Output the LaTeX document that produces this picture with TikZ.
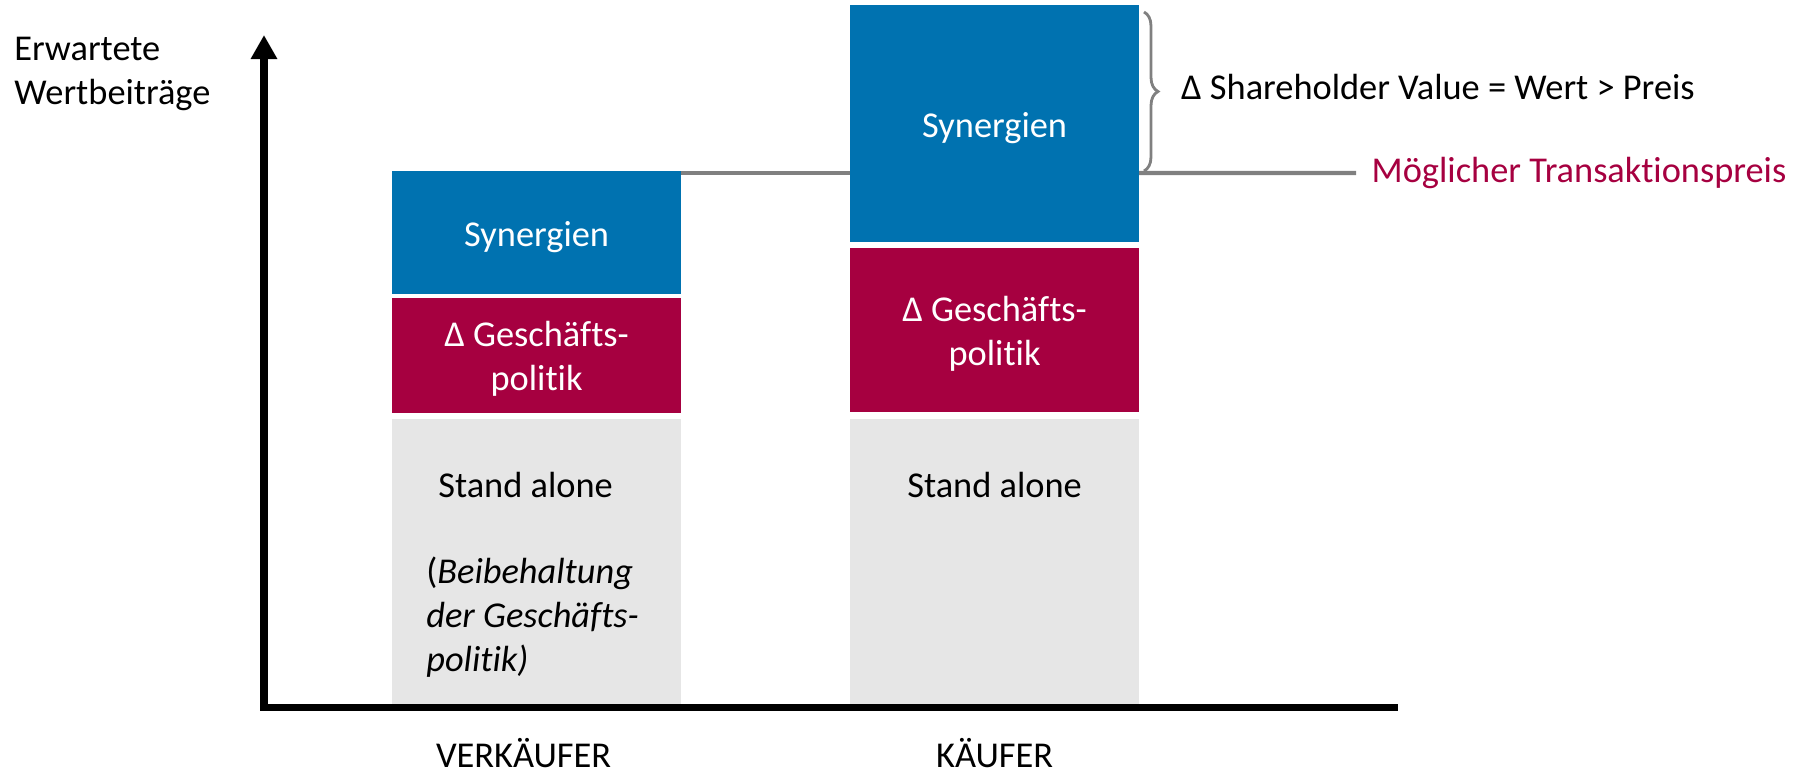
\documentclass[tikz,border=0pt]{standalone}
\usepackage{fontspec}
\setmainfont{Carlito}[Ligatures={NoCommon}]
\usepackage{xcolor}
\usepackage{tikz}
\usetikzlibrary{positioning,arrows.meta,calc,decorations.pathreplacing}
\definecolor{synblue}{RGB}{0,114,176}
\definecolor{polred}{RGB}{166,0,64}
\definecolor{alonegray}{RGB}{230,230,230}
\definecolor{pricegray}{RGB}{128,128,128}

\begin{document}
\begin{tikzpicture}[
  every node/.style={font=\fontsize{20.7}{25}\selectfont, align=center},
  bar/.style={inner sep=0pt, minimum width=5.77cm},
  synblock/.style={bar, fill=synblue},
  polblock/.style={bar, fill=polred},
  aloneblock/.style={bar, fill=alonegray},
  bartext/.style={text=white},
  axisline/.style={line width=4.5pt, line join=miter, {Triangle[length=0.48cm,width=0.5cm]}-},
  priceline/.style={line width=2.4pt, pricegray},
  bracebar/.style={line width=1.6pt, pricegray, decorate, decoration={brace, amplitude=0.28cm}}
]
  \useasboundingbox (0,0) rectangle (36.14,-15.46);

  % axes
  \coordinate (ytip) at (5.28,-0.70);
  \coordinate (origin) at (5.28,-14.15);
  \coordinate (xend) at (27.96,-14.15);
  \node[anchor=west, align=left, inner sep=0pt] (ylabel) at (0.28,-1.47) {Erwartete\\Wertbeiträge};

  % Verkaeufer
  \node[synblock, minimum height=2.46cm, anchor=north west] (synL) at (7.84,-3.42) {};
  \node[polblock, minimum height=2.30cm, below=0.06cm of synL] (polL) {};
  \node[aloneblock, minimum height=5.72cm, below=0.10cm of polL] (aloneL) {};
  \node[bartext] (synLtxt) at ($(synL)+(0,-0.08)$) {Synergien};
  \node[bartext] (polLtxt) at ($(polL)+(0,-0.07)$) {Δ Geschäfts-\\politik};
  \node (standL) at ($(aloneL.north)+(-0.22,-1.34)$) {Stand alone};
  \node[anchor=west, align=left, inner sep=0pt] (keepL) at ($(aloneL.north west)+(0.68,-3.98)$)
    {(\textit{Beibehaltung}\\\textit{der Geschäfts-}\\\textit{politik)}};
  \node (seller) at ($(aloneL.south)+(-0.26,-0.95)$) {VERKÄUFER};

  % Kaeufer
  \node[synblock, minimum height=4.74cm, anchor=north west] (synR) at (17.00,-0.10) {};
  \node[polblock, minimum height=3.28cm, below=0.10cm of synR] (polR) {};
  \node[aloneblock, minimum height=5.72cm, below=0.12cm of polR] (aloneR) {};
  \node[bartext] (synRtxt) at ($(synR)+(0,-0.08)$) {Synergien};
  \node[bartext] (polRtxt) at ($(polR)+(0,-0.07)$) {Δ Geschäfts-\\politik};
  \node (standR) at ($(aloneR.north)+(0,-1.34)$) {Stand alone};
  \node (buyer) at ($(aloneR.south)+(0,-0.95)$) {KÄUFER};

  \draw[axisline] (ytip) -- (origin) -- (xend);

  % Transaktionspreis
  \coordinate (priceend) at (27.12,-3.46);
  \node[anchor=west, text=polred] (price) at ($(priceend)+(0.19,0)$) {Möglicher Transaktionspreis};
  \draw[priceline] ($(synL.north east)+(0,-0.04)$) -- ($(synL.north east -| synR.west)+(0,-0.04)$);
  \draw[priceline] ($(synL.north east -| synR.east)+(0,-0.04)$) -- (priceend);

  \coordinate (bracetop) at (22.88,-0.24);
  \coordinate (bracebot) at (22.88,-3.42);
  \draw[bracebar] (bracetop) -- (bracebot);
  \node[anchor=west] (shv) at (23.50,-1.74) {Δ Shareholder Value = Wert > Preis};
\end{tikzpicture}
\end{document}
